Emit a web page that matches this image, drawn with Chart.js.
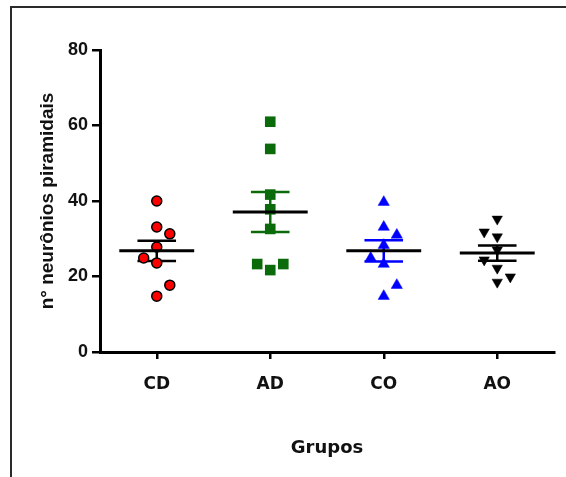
<!DOCTYPE html>
<html>
<head>
<meta charset="utf-8">
<script src="https://cdn.jsdelivr.net/npm/chart.js@4.4.0/dist/chart.umd.min.js"></script>
<style>
  html, body { margin: 0; padding: 0; background: #fff; }
  #wrap { position: relative; width: 566px; height: 477px; overflow: hidden; }
  #frame { position: absolute; left: 10px; top: 6px; width: 700px; height: 700px;
           border-top: 2px solid #2a2a2a; border-left: 2px solid #2a2a2a; }
</style>
</head>
<body>
<div id="wrap">
  <canvas id="chart" width="566" height="477"></canvas>
  <div id="frame"></div>
</div>
<script>
// groups and tick labels
const groups = ['CD', 'AD', 'CO', 'AO'];
const yTicks = [0, 20, 40, 60, 80];

// individual values (n° neurônios piramidais)
const cdValues = [40, 33.1, 31.3, 27.8, 24.9, 23.6, 17.7, 14.8];
const adValues = [61, 53.8, 41.7, 37.8, 32.6, 23.3, 21.7, 23.3];
const coValues = [39.7, 33.1, 31, 28.3, 24.9, 23.3, 17.7, 14.8];
const aoValues = [35.2, 31.8, 30.5, 27, 24.4, 22.2, 19.9, 18.5];

// mean and SEM of each group as drawn
const means = [26.8, 37.1, 26.8, 26.2];
const sems = [2.7, 5.3, 2.8, 2.0];

// horizontal spread of points (scatter dot plot layout, not data)
const cdSpread = [0, 0, 1, 0, -1, 0, 1, 0];
const adSpread = [0, 0, 0, 0, 0, -1, 0, 1];
const coSpread = [0, 0, 1, 0, -1, 0, 1, 0];
const aoSpread = [0, -1, 0, 0, -1, 0, 1, 0];
const spreadStep = 0.115;
const meanHalf = 0.33;
const capHalf = 0.17;

function dots(values, spread, idx) {
    return values.map((v, i) => ({ x: idx + spread[i] * spreadStep, y: v }));
}

function meanLine(idx) {
    return [{ x: idx - meanHalf, y: means[idx] }, { x: idx + meanHalf, y: means[idx] }];
}

function semBar(idx) {
    const hi = means[idx] + sems[idx], lo = means[idx] - sems[idx];
    return [
        { x: idx - capHalf, y: hi }, { x: idx + capHalf, y: hi }, { x: idx, y: null },
        { x: idx, y: hi }, { x: idx, y: lo }, { x: idx, y: null },
        { x: idx - capHalf, y: lo }, { x: idx + capHalf, y: lo }
    ];
}

const lineColors = ['#000000', '#0b6b0b', '#0000ff', '#000000'];

const datasets = [
    { type: 'scatter', data: dots(cdValues, cdSpread, 0), pointStyle: 'circle', pointRadius: 5,
      backgroundColor: '#ff0000', borderColor: '#000', borderWidth: 1.5, order: 2 },
    { type: 'scatter', data: dots(adValues, adSpread, 1), pointStyle: 'rect', pointRadius: 7.5,
      backgroundColor: '#0b6b0b', borderColor: '#0b6b0b', borderWidth: 0, order: 2 },
    { type: 'scatter', data: dots(coValues, coSpread, 2), pointStyle: 'triangle', pointRadius: 6.5,
      backgroundColor: '#0000ff', borderColor: '#0000ff', borderWidth: 0.5, order: 2 },
    { type: 'scatter', data: dots(aoValues, aoSpread, 3), pointStyle: 'triangle', rotation: 180, pointRadius: 6,
      backgroundColor: '#000', borderColor: '#000', borderWidth: 0.5, order: 2 }
];

groups.forEach((g, i) => {
    datasets.push({ type: 'line', data: semBar(i), borderColor: lineColors[i], borderWidth: 2.5,
        pointRadius: 0, spanGaps: false, fill: false, order: 3 });
    datasets.push({ type: 'line', data: meanLine(i), borderColor: '#000', borderWidth: 3,
        pointRadius: 0, fill: false, order: 0 });
});

new Chart(document.getElementById('chart'), {
    type: 'scatter',
    data: { datasets: datasets },
    options: {
        responsive: false,
        animation: false,
        layout: { padding: { top: 50, right: 12, left: 0, bottom: 0 } },
        plugins: { legend: { display: false }, tooltip: { enabled: false } },
        scales: {
            x: {
                type: 'linear',
                min: -0.5,
                max: 3.5,
                afterBuildTicks: s => { s.ticks = groups.map((g, i) => ({ value: i })); },
                afterFit: s => { s.height = 125; },
                border: { display: true, color: '#000', width: 3 },
                grid: { drawOnChartArea: false, drawTicks: true, tickLength: 7, color: '#000', lineWidth: 2.5 },
                ticks: {
                    padding: 15,
                    color: '#111',
                    font: { family: 'DejaVu Sans', size: 17, weight: 'bold' },
                    callback: v => groups[v]
                },
                title: {
                    display: true,
                    text: 'Grupos',
                    color: '#111',
                    padding: { top: 0, bottom: 18 },
                    font: { family: 'DejaVu Sans', size: 18, weight: 'bold' }
                }
            },
            y: {
                min: 0,
                max: 80,
                afterBuildTicks: s => { s.ticks = yTicks.map(v => ({ value: v })); },
                afterFit: s => { s.width = 100; },
                border: { display: true, color: '#000', width: 3 },
                grid: { drawOnChartArea: false, drawTicks: true, tickLength: 8, color: '#000', lineWidth: 2.5 },
                ticks: {
                    padding: 4,
                    color: '#111',
                    font: { family: 'Liberation Sans', size: 18, weight: 'bold' }
                },
                title: {
                    display: true,
                    text: 'n° neurônios piramidais',
                    color: '#111',
                    padding: { top: 36, bottom: 0 },
                    font: { family: 'Liberation Sans', size: 19, weight: 'bold' }
                }
            }
        }
    }
});
</script>
</body>
</html>
